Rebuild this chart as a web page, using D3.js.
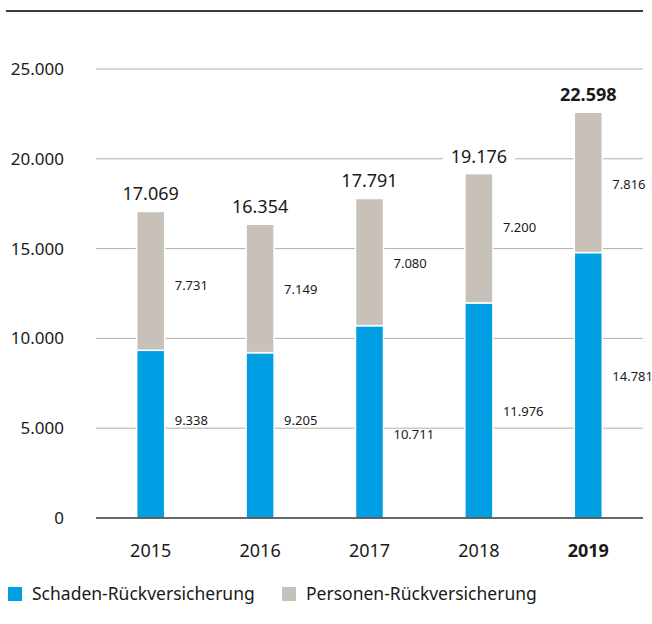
<!DOCTYPE html>
<html>
<head>
<meta charset="utf-8">
<script src="https://cdn.jsdelivr.net/npm/d3@7"></script>
<style>
  body { margin: 0; background: #fff; }
  svg text { font-family: "Noto Sans", "Open Sans", sans-serif; fill: #1a1a1a; }
</style>
</head>
<body>
<svg id="chart"></svg>
<script>
//  chart data
const years = ["2015", "2016", "2017", "2018", "2019"];
const schaden = [9338, 9205, 10711, 11976, 14781];
const personen = [7731, 7149, 7080, 7200, 7816];
const totals = [17069, 16354, 17791, 19176, 22598];
const yTicks = [0, 5000, 10000, 15000, 20000, 25000];
const seriesNames = ["Schaden-Rückversicherung", "Personen-Rückversicherung"];
const colors = ["#009fe3", "#c8c1b9"];

const w = 652
const h = 624
const margin = ({top: 69, right: 9, bottom: 106, left: 96})

//  small vertical nudges (px) of the segment labels, as placed in the original
const nudgeSchaden = [-14, -15, 12, 1, -9];
const nudgePersonen = [4, 1, 1, -11, 2];

const fmt = d => d3.format(",")(d).replace(/,/g, ".");

const svg = d3.select("#chart").attr("width", w).attr("height", h)

const x = d3.scaleBand().domain(years).range([margin.left, w - margin.right]).paddingInner(0.744).paddingOuter(0.372)
const y = d3.scaleLinear().domain([0, 25000]).range([h - margin.bottom, margin.top])

//  top rule
svg.append("line")
   .attr("x1", 6).attr("x2", w - margin.right)
   .attr("y1", 11).attr("y2", 11)
   .attr("stroke", "#3c3c3c").attr("stroke-width", 2);

//  gridlines
svg.selectAll(".grid")
   .data(yTicks.filter(d => d > 0)).enter().append("line")
   .attr("class", "grid")
   .attr("x1", margin.left).attr("x2", w - margin.right)
   .attr("y1", d => y(d)).attr("y2", d => y(d))
   .attr("stroke", "#b5aea5").attr("stroke-width", 1);

//  tick labels
svg.selectAll(".ytick")
   .data(yTicks).enter().append("text")
   .attr("x", 64)
   .attr("y", d => y(d) + 6)
   .attr("text-anchor", "end")
   .style("font-size", "17px")
   .text(d => d === 0 ? "0" : fmt(d));

//  stacked bars
const stack = years.map((yr, i) => [
  {year: yr, y0: 0, y1: schaden[i], v: schaden[i], c: colors[0], n: nudgeSchaden[i]},
  {year: yr, y0: schaden[i], y1: schaden[i] + personen[i], v: personen[i], c: colors[1], n: nudgePersonen[i]}
]).flat();

svg.selectAll(".bar")
   .data(stack).enter().append("rect")
   .attr("class", "bar")
   .attr("x", d => x(d.year))
   .attr("width", x.bandwidth())
   .attr("y", d => y(d.y1))
   .attr("height", d => y(d.y0) - y(d.y1))
   .attr("fill", d => d.c)
   .attr("stroke", "#fff")
   .attr("stroke-width", 1.5);

//  segment labels
svg.selectAll(".seg")
   .data(stack).enter().append("text")
   .attr("x", d => x(d.year) + x.bandwidth() + 10)
   .attr("y", d => y((d.y0 + d.y1) / 2) + 5 + d.n)
   .style("font-size", "13px")
   .text(d => fmt(d.v));

//  total labels, with white backing to break the gridlines
years.forEach((yr, i) => {
  const cx = x(yr) + x.bandwidth() / 2;
  const ty = y(totals[i]) - 11;
  const bold = i === years.length - 1;
  const t = svg.append("text")
     .attr("x", cx)
     .attr("y", ty)
     .attr("text-anchor", "middle")
     .style("font-size", "18px")
     .style("font-weight", bold ? "bold" : "normal")
     .text(fmt(totals[i]));
  const bb = t.node().getBBox();
  svg.insert("rect", () => t.node())
     .attr("x", bb.x - 8).attr("y", bb.y)
     .attr("width", bb.width + 16).attr("height", bb.height)
     .attr("fill", "#fff");
});

//  baseline
svg.append("line")
   .attr("x1", margin.left).attr("x2", w - margin.right)
   .attr("y1", y(0)).attr("y2", y(0))
   .attr("stroke", "#333").attr("stroke-width", 1.5);

//  year labels
svg.selectAll(".xtick")
   .data(years).enter().append("text")
   .attr("x", d => x(d) + x.bandwidth() / 2)
   .attr("y", y(0) + 39)
   .attr("text-anchor", "middle")
   .style("font-size", "18px")
   .style("font-weight", (d, i) => i === years.length - 1 ? "bold" : "normal")
   .text(d => d);

//  legend
const legendX = [8, 282];
seriesNames.forEach((name, i) => {
  svg.append("rect")
     .attr("x", legendX[i]).attr("y", 587)
     .attr("width", 14).attr("height", 14)
     .attr("fill", colors[i]);
  svg.append("text")
     .attr("x", legendX[i] + 24).attr("y", 600)
     .style("font-size", "17.5px")
     .text(name);
});
</script>
</body>
</html>
